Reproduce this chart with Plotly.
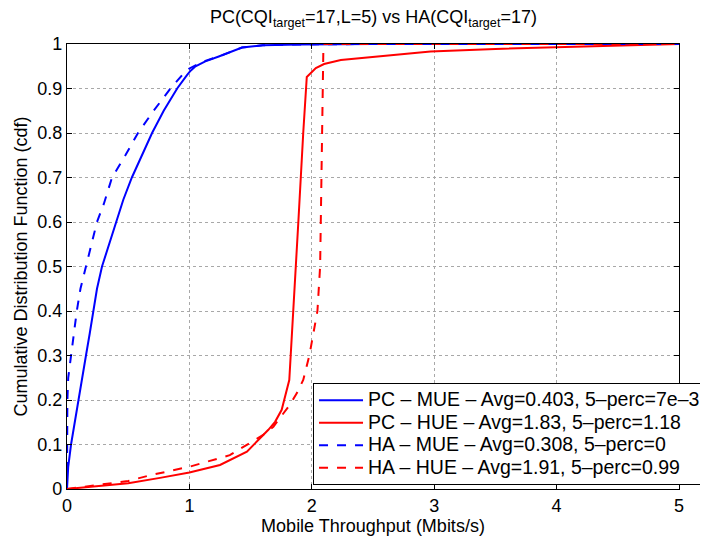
import plotly.graph_objects as go

# PC - MUE (blue solid)
pc_mue_x = [0, 0.002, 0.01, 0.033, 0.065, 0.093, 0.123, 0.155, 0.186, 0.215, 0.245, 0.286, 0.345, 0.405, 0.46, 0.53, 0.613, 0.695, 0.79, 0.9, 0.98, 1.01, 1.05, 1.13, 1.24, 1.335, 1.43, 1.6, 1.9, 2.5, 5]
pc_mue_y = [0, 0.02, 0.05, 0.1, 0.15, 0.2, 0.25, 0.3, 0.35, 0.4, 0.45, 0.5, 0.55, 0.6, 0.65, 0.7, 0.75, 0.8, 0.85, 0.9, 0.93, 0.94, 0.95, 0.961, 0.972, 0.982, 0.992, 0.997, 0.999, 1, 1]

# PC - HUE (red solid)
pc_hue_x = [0, 0.3, 0.5, 0.76, 1.0, 1.25, 1.47, 1.577, 1.645, 1.70, 1.754, 1.816, 1.85, 1.89, 1.93, 1.959, 2.033, 2.10, 2.237, 2.56, 2.97, 3.5, 4.0, 4.5, 5]
pc_hue_y = [0, 0.007, 0.013, 0.025, 0.037, 0.054, 0.084, 0.114, 0.133, 0.151, 0.178, 0.245, 0.4, 0.6, 0.8, 0.926, 0.946, 0.955, 0.964, 0.973, 0.983, 0.989, 0.993, 0.997, 1.0]

# HA - MUE (blue dashed)
ha_mue_x = [0, 0, 0.003, 0.01, 0.033, 0.054, 0.08, 0.11, 0.155, 0.196, 0.245, 0.30, 0.368, 0.477, 0.58, 0.708, 0.845, 0.94, 1.0, 1.05, 1.13, 1.24, 1.335, 1.43, 1.6, 1.9, 2.5, 5]
ha_mue_y = [0, 0.18, 0.2, 0.25, 0.3, 0.35, 0.4, 0.45, 0.5, 0.55, 0.6, 0.64, 0.7, 0.75, 0.8, 0.85, 0.9, 0.93, 0.945, 0.952, 0.962, 0.972, 0.982, 0.992, 0.997, 0.999, 1, 1]

# HA - HUE (red dashed)
ha_hue_x = [0, 0.3, 0.5, 0.68, 1.0, 1.33, 1.6, 1.686, 1.754, 1.82, 1.877, 1.93, 1.98, 2.012, 2.046, 2.068, 2.074, 2.08, 2.085, 2.09, 2.095, 5]
ha_hue_y = [0, 0.01, 0.018, 0.031, 0.05, 0.076, 0.121, 0.14, 0.166, 0.189, 0.215, 0.245, 0.3, 0.35, 0.4, 0.5, 0.6, 0.7, 0.8, 0.9, 1.0, 1.0]

names = [
    "PC – MUE – Avg=0.403, 5–perc=7e–3",
    "PC – HUE – Avg=1.83, 5–perc=1.18",
    "HA – MUE – Avg=0.308, 5–perc=0",
    "HA – HUE – Avg=1.91, 5–perc=0.99",
]

x_ticks = [0, 1, 2, 3, 4, 5]
y_ticks = [0, 0.1, 0.2, 0.3, 0.4, 0.5, 0.6, 0.7, 0.8, 0.9, 1]
y_tick_labels = ["0", "0.1", "0.2", "0.3", "0.4", "0.5", "0.6", "0.7", "0.8", "0.9", "1"]

FONT = "Liberation Sans, Arial, Helvetica, sans-serif"

fig = go.Figure()
series = [
    (pc_mue_x, pc_mue_y, "#0000ff", "solid"),
    (pc_hue_x, pc_hue_y, "#ff0000", "solid"),
    (ha_mue_x, ha_mue_y, "#0000ff", "dash"),
    (ha_hue_x, ha_hue_y, "#ff0000", "dash"),
]
for (xs, ys, col, dash), nm in zip(series, names):
    fig.add_trace(go.Scatter(x=xs, y=ys, mode="lines",
                             name='<span style="font-size:19.5px">' + nm + '</span>',
                             line=dict(color=col, width=2, dash=dash)))

axis_common = dict(
    showline=True, linecolor="black", linewidth=1.2, mirror="ticks",
    ticks="inside", ticklen=5, tickcolor="black",
    showgrid=True, gridcolor="#a8a8a8", griddash="dot", gridwidth=1,
    zeroline=False, automargin=False,
    tickfont=dict(family=FONT, size=18, color="black"),
)

fig.update_layout(
    width=700, height=530,
    margin=dict(l=59, r=29, t=36, b=49, autoexpand=False),
    paper_bgcolor="white", plot_bgcolor="white",
    font=dict(family=FONT, size=18, color="black"),
    title=dict(text="PC(CQI<sub>target</sub>=17,L=5) vs HA(CQI<sub>target</sub>=17)",
               x=0.522, xanchor="center", y=0.995, yanchor="top",
               font=dict(family=FONT, size=18, color="black")),
    xaxis=dict(range=[0, 5], tickvals=x_ticks,
               title=dict(text="Mobile Throughput (Mbits/s)", standoff=0,
                          font=dict(family=FONT, size=18)),
               **axis_common),
    yaxis=dict(range=[0, 1], tickvals=y_ticks, ticktext=y_tick_labels,
               title=dict(text="Cumulative Distribution Function (cdf)", standoff=4,
                          font=dict(family=FONT, size=18)),
               **axis_common),
    legend=dict(x=0.402, y=0.238, xanchor="left", yanchor="top",
                bgcolor="white", bordercolor="black", borderwidth=1,
                font=dict(family=FONT, size=15, color="black"),
                tracegroupgap=0, itemwidth=44),
    showlegend=True,
)

fig.write_html("out.html")
